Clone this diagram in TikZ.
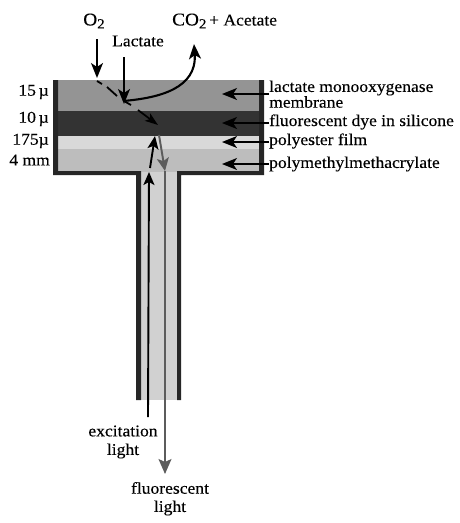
\documentclass[tikz,border=0pt]{standalone}
\usepackage{fontspec}
\setmainfont[FakeBold=0.25,FakeStretch=1.07]{Liberation Serif}
\usetikzlibrary{arrows.meta}
\definecolor{memb}{gray}{0.58}
\definecolor{dye}{gray}{0.2}
\definecolor{film}{gray}{0.85}
\definecolor{pmma}{gray}{0.74}
\definecolor{stem}{gray}{0.82}
\definecolor{wall}{gray}{0.15}
\definecolor{fluo}{gray}{0.36}
\tikzset{
  x=1pt,y=-1pt,
  lbl/.style={font=\fontsize{16.4}{13}\selectfont,text=black,inner sep=0pt,align=center},
  lay/.style={anchor=west},
  dep/.style={anchor=east},
  arr/.style={line width=1.7pt,black,-{Stealth[length=15pt,width=12pt,inset=4pt]}},
  seg/.style={line width=1.8pt,black},
}
\newcommand{\subtwo}{\raisebox{-3pt}{\fontsize{14}{14}\selectfont 2}}
\begin{document}
\begin{tikzpicture}
\useasboundingbox (0,0) rectangle (460,523);
% layers
\fill[memb] (53,80) rectangle (264,111);
\fill[dye] (53,111) rectangle (264,136);
\fill[film] (53,136) rectangle (264,149);
\fill[pmma] (53,149) rectangle (264,172);
\fill[stem] (139,172) rectangle (179,400);
% walls
\fill[wall] (53,80) -- (58,80) -- (58,171) -- (141,171) -- (141,400) -- (136,400) -- (136,175) -- (53,175) -- cycle;
\fill[wall] (264,80) -- (259,80) -- (259,171) -- (177,171) -- (177,400) -- (181,400) -- (181,175) -- (264,175) -- cycle;
% depth labels
\node[lbl,dep] (d1) at (49,92) {15\,µ};
\node[lbl,dep] (d2) at (49,119) {10\,µ};
\node[lbl,dep] (d3) at (49,141) {175µ};
\node[lbl,dep] (d4) at (50,160) {4 mm};
% layer labels
\node[lbl,lay] (l1) at (269,88) {lactate monooxygenase};
\node[lbl,lay] (l1b) at (269,102) {membrane};
\node[lbl,lay] (l2) at (269,122) {fluorescent dye in silicone};
\node[lbl,lay] (l3) at (269,141) {polyester film};
\node[lbl,lay] (l4) at (269,164) {polymethylmethacrylate};
\coordinate (t1) at (222,94);
\coordinate (t2) at (222,123);
\coordinate (t3) at (222,142);
\coordinate (t4) at (222,164);
\draw[arr] (l1.west |- t1) -- (t1);
\draw[arr] (l2.west) ++(0,1) -- (t2);
\draw[arr] (l3.west) ++(0,1) -- (t3);
\draw[arr] (l4.west) -- (t4);
% top labels
\node[lbl,font=\fontsize{18}{18}\selectfont] (o2) at (94,21) {O\subtwo};
\node[lbl] (lac) at (138,41) {Lactate};
\node[lbl,anchor=west] (co2) at (172,21) {{\fontsize{18}{18}\selectfont CO\subtwo}\,+ Acetate};
\coordinate (o2s) at (97,39);
\coordinate (o2e) at (97,78);
\draw[arr] (o2s) -- (o2e);
\coordinate (m1) at (97,81);
\coordinate (m2) at (117,96);
\coordinate (m3) at (124,101);
\coordinate (m4) at (131,105);
\coordinate (m5) at (138,110);
\coordinate (m6) at (158,125);
\draw[seg] (m1) -- (102,84);
\draw[seg] (107,87) -- (m2);
\draw[seg] (m3) -- (m4);
\draw[arr,-{Stealth[length=13pt,width=9pt,inset=3pt]}] (m5) -- (m6);
\coordinate (ls) at (124,57);
\coordinate (le) at (124,104);
\draw[arr] (ls) -- (le);
\coordinate (cs) at (123,101);
\coordinate (ce) at (194,44);
\draw[line width=2.1pt,black,-{Stealth[length=15pt,width=12pt,inset=4pt]}] (cs) .. controls (160,98) and (197,88) .. (ce);
% fluorescent light
\coordinate (f1) at (159,135);
\coordinate (f2) at (165,171);
\coordinate (f3) at (165,474);
\draw[line width=1.9pt,fluo,-{Stealth[length=13pt,width=12pt,inset=3pt]}] (f1) -- (f2);
\draw[line width=1.2pt,fluo,-{Stealth[length=15pt,width=13pt,inset=3pt]}] (f2) -- (f3);
% excitation light
\coordinate (x1) at (148,417);
\coordinate (x2) at (149,172);
\coordinate (x3) at (150,168);
\coordinate (x4) at (155,136);
\draw[line width=1.9pt,black,-{Stealth[length=13pt,width=11pt,inset=3pt]}] (x1) -- (x2);
\draw[line width=1.9pt,black,-{Stealth[length=13pt,width=11pt,inset=3pt]}] (x3) -- (x4);
% bottom labels
\node[lbl] (ex) at (123,431) {excitation};
\node[lbl] (exl) at (123,451) {light};
\node[lbl] (fl) at (170,488) {fluorescent};
\node[lbl] (fll) at (170,508) {light};
\end{tikzpicture}
\end{document}
